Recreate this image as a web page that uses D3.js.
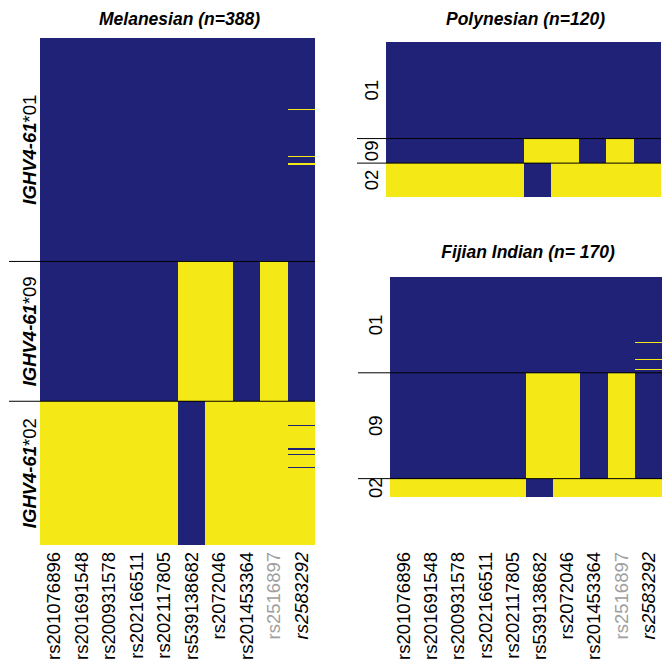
<!DOCTYPE html>
<html>
<head>
<meta charset="utf-8">
<script src="https://cdn.jsdelivr.net/npm/d3@7"></script>
<style>
  body { margin:0; background:#fff; }
  text { font-family: "Liberation Sans", Arial, sans-serif; }
</style>
</head>
<body>
<div id="chart"></div>
<script>
// SNP columns, alleles, and row runs (1 = yellow, 0 = blue)
var snps = ["rs201076896","rs201691548","rs200931578","rs202166511","rs202117805",
            "rs539138682","rs2072046","rs201453364","rs2516897","rs2583292"];
var alleles = ["01","09","02"];
var titles = ["Melanesian (n=388)","Polynesian (n=120)","Fijian Indian (n= 170)"];

var melanesianRuns = [
	["01",54,"0000000000"],
	["01",1,"0000000001"],
	["01",35,"0000000000"],
	["01",1,"0000000001"],
	["01",5,"0000000000"],
	["01",1,"0000000001"],
	["01",74,"0000000000"],
	["09",107,"0000011010"],
	["02",18,"1111101111"],
	["02",1,"1111101110"],
	["02",17,"1111101111"],
	["02",1,"1111101110"],
	["02",3,"1111101111"],
	["02",1,"1111101110"],
	["02",9,"1111101111"],
	["02",1,"1111101110"],
	["02",59,"1111101111"]
];
var polynesianRuns = [
	["01",75,"0000000000"],
	["09",19,"0000011010"],
	["02",26,"1111101111"]
];
var fijianRuns = [
	["01",50,"0000000000"],
	["01",1,"0000000001"],
	["01",12,"0000000000"],
	["01",1,"0000000001"],
	["01",7,"0000000000"],
	["01",1,"0000000001"],
	["01",2,"0000000000"],
	["09",82,"0000011010"],
	["02",14,"1111101111"]
];

var blue = "#1f2277", yellow = "#f5e817";
var w = 672, h = 668;

var svg = d3.select("#chart").append("svg")
	.attr("width", w)
	.attr("height", h);

function drawPanel(runs, title, box, titleY, lineX, longLabels, showSnps){
	var total = d3.sum(runs, function(d){ return d[1]; });
	var xs = d3.scaleBand().domain(snps).range([box.x0, box.x1]);
	var ys = d3.scaleLinear().domain([0, total]).range([box.y0, box.y1]);

	var start = 0;
	var cells = [];
	runs.forEach(function(r){
		snps.forEach(function(s, i){
			cells.push({snp:s, from:start, to:start + r[1], on:r[2][i] == "1"});
		});
		start += r[1];
	});

	var g = svg.append("g");
	g.selectAll(".cell")
		.data(cells)
		.enter()
		.append("rect")
		.attr("class","cell")
		.attr("x", function(d){ return xs(d.snp); })
		.attr("width", xs.bandwidth())
		.attr("y", function(d){ return ys(d.from); })
		.attr("height", function(d){ return ys(d.to) - ys(d.from); })
		.attr("fill", function(d){ return d.on ? yellow : blue; })
		.attr("shape-rendering","crispEdges");

	// allele section bounds
	var bounds = alleles.map(function(a){
		var s = 0, lo = null, hi = null;
		runs.forEach(function(r){
			if (r[0] == a){ if (lo === null) lo = s; hi = s + r[1]; }
			s += r[1];
		});
		return {allele:a, lo:lo, hi:hi};
	});

	g.selectAll(".divider")
		.data(bounds.slice(1))
		.enter()
		.append("line")
		.attr("class","divider")
		.attr("x1", lineX)
		.attr("x2", box.x1)
		.attr("y1", function(d){ return ys(d.lo); })
		.attr("y2", function(d){ return ys(d.lo); })
		.attr("stroke","#000")
		.attr("stroke-width",1);

	var lab = g.selectAll(".alab")
		.data(bounds)
		.enter()
		.append("text")
		.attr("class","alab")
		.attr("transform", function(d){
			return "translate(" + (longLabels ? 36 : box.x0 - 8) + "," + ys((d.lo + d.hi)/2) + ") rotate(-90)";
		})
		.attr("text-anchor","middle")
		.attr("font-size",18.5)
		.attr("fill","#000");
	if (longLabels){
		lab.append("tspan").attr("font-weight","bold").attr("font-style","italic").text("IGHV4-61");
		lab.append("tspan").text(function(d){ return "*" + d.allele; });
	} else {
		lab.text(function(d){ return d.allele; });
	}

	if (showSnps){
		g.selectAll(".snplab")
			.data(snps)
			.enter()
			.append("text")
			.attr("class","snplab")
			.attr("transform", function(d){
				return "translate(" + (xs(d) + xs.bandwidth()/2) + ",552) rotate(-90)";
			})
			.attr("dy","0.35em")
			.attr("text-anchor","end")
			.attr("font-size",18.5)
			.attr("fill", function(d){ return d == "rs2516897" ? "#a0a0a0" : "#000"; })
			.attr("font-style", function(d){ return d == "rs2583292" ? "italic" : "normal"; })
			.text(function(d){ return d; });
	}

	g.append("text")
		.attr("x", (box.x0 + box.x1)/2 + 2)
		.attr("y", titleY)
		.attr("text-anchor","middle")
		.attr("font-size",17.5)
		.attr("font-weight","bold")
		.attr("font-style","italic")
		.text(title);
}

drawPanel(melanesianRuns, titles[0], {x0:40, x1:315, y0:38, y1:545}, 25, 9, true, true);
drawPanel(polynesianRuns, titles[1], {x0:386, x1:661, y0:41.7, y1:196.7}, 25, 357, false, false);
drawPanel(fijianRuns, titles[2], {x0:390, x1:662, y0:277.3, y1:496.7}, 258, 358, false, true);
</script>
</body>
</html>
